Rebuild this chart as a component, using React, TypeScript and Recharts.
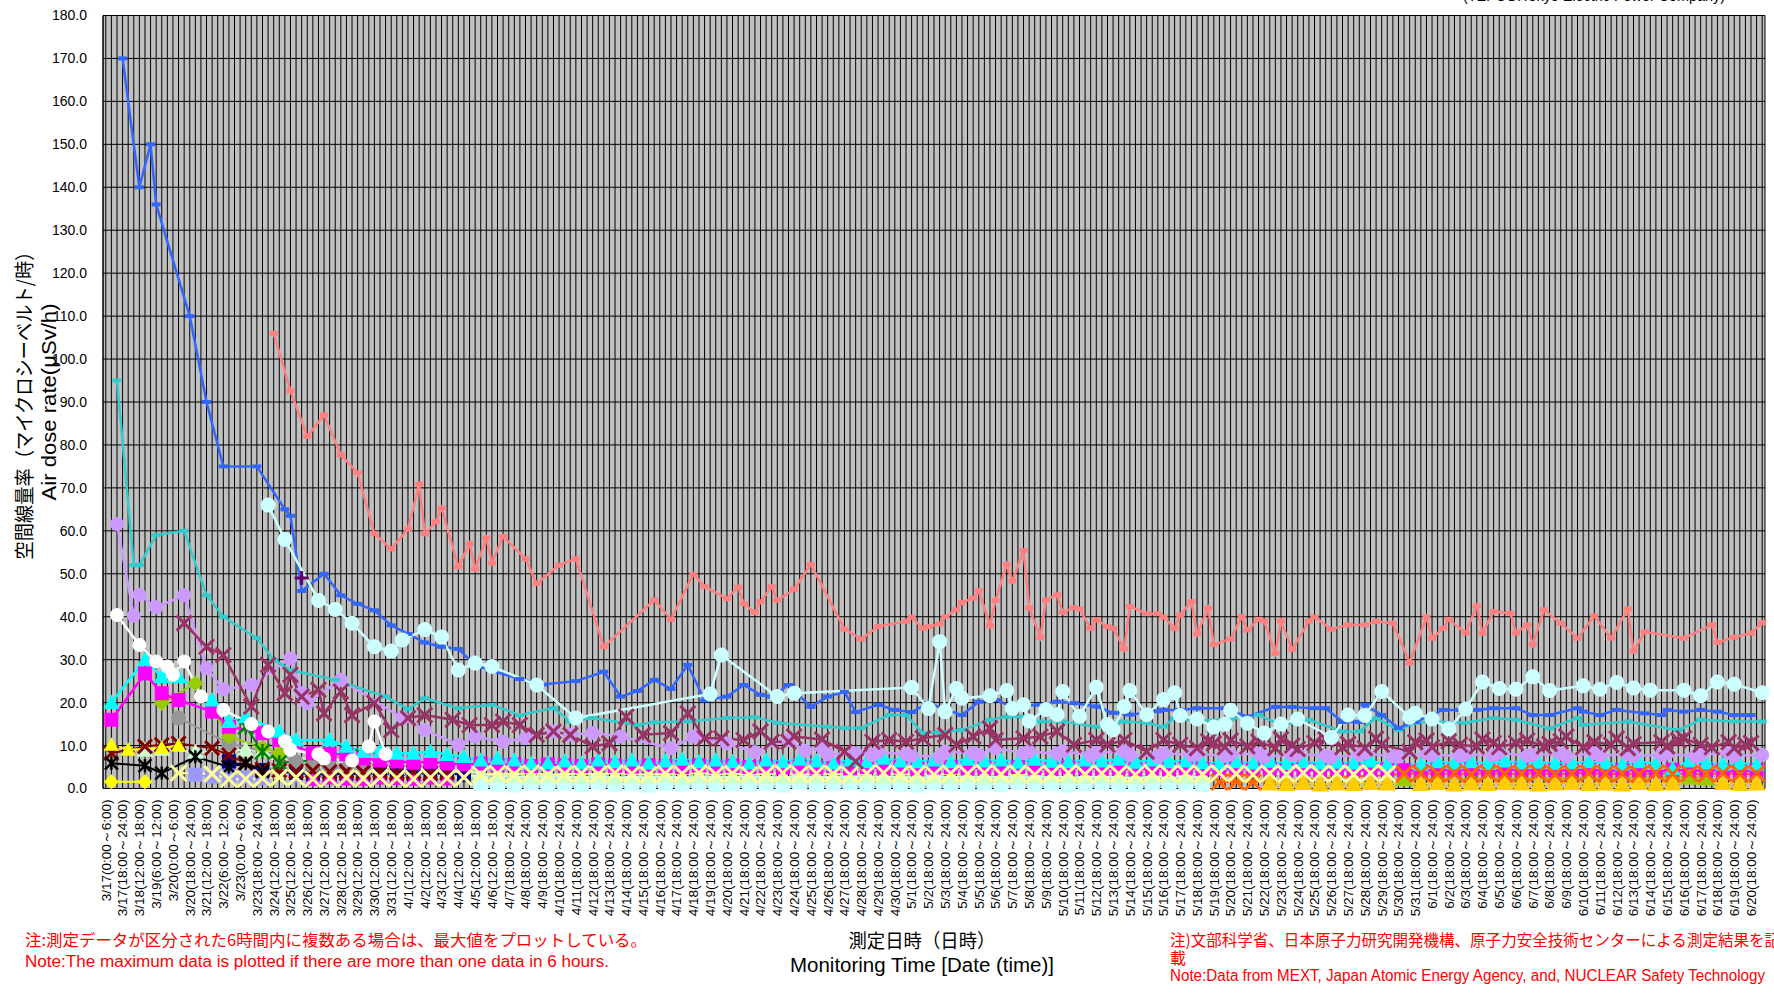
import { LineChart, Line, XAxis, YAxis, CartesianGrid } from 'recharts'

type V = number | null
type Pair = [V, V]
const _ = null

// one label per three category slots
const TICK_LABELS = [
  '3/17(0:00～6:00)', '3/17(18:00～24:00)', '3/18(12:00～18:00)', '3/19(6:00～12:00)', '3/20(0:00～6:00)',
  '3/20(18:00～24:00)', '3/21(12:00～18:00)', '3/22(6:00～12:00)', '3/23(0:00～6:00)', '3/23(18:00～24:00)',
  '3/24(12:00～18:00)', '3/25(12:00～18:00)', '3/26(12:00～18:00)', '3/27(12:00～18:00)', '3/28(12:00～18:00)',
  '3/29(12:00～18:00)', '3/30(12:00～18:00)', '3/31(12:00～18:00)', '4/1(12:00～18:00)', '4/2(12:00～18:00)',
  '4/3(12:00～18:00)', '4/4(12:00～18:00)', '4/5(12:00～18:00)', '4/6(12:00～18:00)', '4/7(18:00～24:00)',
  '4/8(18:00～24:00)', '4/9(18:00～24:00)', '4/10(18:00～24:00)', '4/11(18:00～24:00)', '4/12(18:00～24:00)',
  '4/13(18:00～24:00)', '4/14(18:00～24:00)', '4/15(18:00～24:00)', '4/16(18:00～24:00)', '4/17(18:00～24:00)',
  '4/18(18:00～24:00)', '4/19(18:00～24:00)', '4/20(18:00～24:00)', '4/21(18:00～24:00)', '4/22(18:00～24:00)',
  '4/23(18:00～24:00)', '4/24(18:00～24:00)', '4/25(18:00～24:00)', '4/26(18:00～24:00)', '4/27(18:00～24:00)',
  '4/28(18:00～24:00)', '4/29(18:00～24:00)', '4/30(18:00～24:00)', '5/1(18:00～24:00)', '5/2(18:00～24:00)',
  '5/3(18:00～24:00)', '5/4(18:00～24:00)', '5/5(18:00～24:00)', '5/6(18:00～24:00)', '5/7(18:00～24:00)',
  '5/8(18:00～24:00)', '5/9(18:00～24:00)', '5/10(18:00～24:00)', '5/11(18:00～24:00)', '5/12(18:00～24:00)',
  '5/13(18:00～24:00)', '5/14(18:00～24:00)', '5/15(18:00～24:00)', '5/16(18:00～24:00)', '5/17(18:00～24:00)',
  '5/18(18:00～24:00)', '5/19(18:00～24:00)', '5/20(18:00～24:00)', '5/21(18:00～24:00)', '5/22(18:00～24:00)',
  '5/23(18:00～24:00)', '5/24(18:00～24:00)', '5/25(18:00～24:00)', '5/26(18:00～24:00)', '5/27(18:00～24:00)',
  '5/28(18:00～24:00)', '5/29(18:00～24:00)', '5/30(18:00～24:00)', '5/31(18:00～24:00)', '6/1(18:00～24:00)',
  '6/2(18:00～24:00)', '6/3(18:00～24:00)', '6/4(18:00～24:00)', '6/5(18:00～24:00)', '6/6(18:00～24:00)',
  '6/7(18:00～24:00)', '6/8(18:00～24:00)', '6/9(18:00～24:00)', '6/10(18:00～24:00)', '6/11(18:00～24:00)',
  '6/12(18:00～24:00)', '6/13(18:00～24:00)', '6/14(18:00～24:00)', '6/15(18:00～24:00)', '6/16(18:00～24:00)',
  '6/17(18:00～24:00)', '6/18(18:00～24:00)', '6/19(18:00～24:00)', '6/20(18:00～24:00)',
]

const Y_TICKS = [0, 10, 20, 30, 40, 50, 60, 70, 80, 90, 100, 110, 120, 130, 140, 150, 160, 170, 180]

// main series: two readings per label step (first and last slot of the step)
const BLUE: Pair[] = [
  [_, _], [170, _], [140, 150], [136, _], [_, _], [110, _], [90, _], [75, _], [_, _], [75, _],
  [_, 65], [63.5, 46], [_, _], [50, _], [45, _], [43, _], [41.5, _], [38, _], [36, _], [34, _],
  [33, _], [32.5, _], [28.7, _], [27.4, _], [_, 25.5], [_, _], [24.2, _], [_, _], [25, _], [_, 27.2],
  [_, 21.4], [_, 22.7], [_, 25.3], [_, 23.2], [_, 28.8], [_, 20.5], [_, _], [21.4, _], [24.1, _], [21.8, 21.4],
  [_, 24.1], [_, _], [19, _], [21.4, _], [22.5, 17.8], [_, _], [19.5, _], [18.3, _], [17.8, _], [19.9, _],
  [_, _], [17.1, _], [20.2, _], [20.6, _], [19.1, _], [_, 19.5], [_, 20.2], [_, 19.9], [_, _], [19.1, _],
  [17.6, _], [17.2, _], [_, 18], [18.3, _], [18.3, _], [18.7, _], [_, 18.7], [_, _], [16.7, _], [_, 19],
  [_, 19], [_, _], [18.7, 18.7], [_, 15.5], [_, 15.5], [19.5, _], [17.1, _], [14.1, _], [15.5, _], [_, 18.3],
  [_, 18.3], [_, 18.3], [_, 18.7], [_, _], [18.7, _], [17.1, _], [17.1, _], [_, 18.7], [17.9, _], [17.1, _],
  [18.3, _], [_, 17.5], [_, 17.1], [18.3, _], [17.9, _], [18.3, _], [17.9, _], [17.1, 17.1], [17.1, _],
]

const TEAL: Pair[] = [
  [_, 95], [_, 52], [52, _], [59, _], [_, 60], [_, _], [45, _], [40, _], [_, _], [35, _],
  [30, _], [27.6, _], [_, _], [_, 25.3], [_, _], [_, _], [_, 21.4], [_, _], [18.5, _], [21, _],
  [_, _], [18.7, _], [_, _], [19.5, _], [_, 17.1], [_, _], [_, 18.7], [_, 15.6], [_, _], [16.4, _],
  [_, _], [_, 14.8], [_, 15.4], [_, _], [_, 15.6], [_, _], [_, _], [16.4, _], [_, 16.6], [_, _],
  [15.3, _], [_, _], [_, _], [14.4, _], [14.1, _], [14.1, _], [_, 17.1], [_, 17.1], [_, 12.9], [_, 13.1],
  [_, _], [13.6, _], [_, 16], [_, 16.7], [_, 16.7], [_, 15.6], [_, _], [15.6, _], [_, _], [14.4, _],
  [_, 15.6], [_, _], [15.3, _], [14.4, 16.4], [_, _], [15.8, _], [_, _], [16.2, _], [_, 17.1], [_, _],
  [14.8, _], [_, 16], [_, _], [_, 13.3], [_, 13.3], [_, 16.4], [_, _], [13.6, _], [15.3, _], [15.6, _],
  [_, _], [15.3, _], [_, 16.4], [_, _], [16, _], [_, _], [14, _], [_, 16.4], [14.8, _], [_, _],
  [_, 15.6], [_, _], [_, _], [_, 13.6], [_, _], [16, _], [_, _], [15.6, _], [_, 15.6],
]

// starts at step 10 (3/24)
const SALMON: Pair[] = [
  [106, _], [92.6, _], [82, _], [87, _], [77.7, _], [73.5, _], [59.3, _], [55.8, _], [60.4, 70.9], [59.3, 62.1],
  [65.3, _], [51.6, 57], [51.1, 58.3], [52.5, 58.7], [_, _], [53.5, 47.7], [_, _], [52, _], [53.5, _], [_, 33],
  [_, _], [_, _], [_, 43.9], [_, 39.4], [_, _], [49.9, 47], [_, _], [44.2, 46.9], [43, 41], [43.5, 47],
  [43.8, _], [46.4, _], [52.2, _], [_, _], [37.1, _], [34.8, _], [37.7, _], [_, 38.9], [39.9, 37.3], [37.7, 38.3],
  [40, 41.6], [43.3, 44.3], [46.1, 37.9], [43.8, 52.2], [48.3, 55.4], [42.1, 35.2], [43.9, 45.1], [41, 42.1], [41.8, 37.3], [39.3, 37.7],
  [37.3, 32.5], [42.4, _], [40.7, 40.7], [39.9, 37.3], [40.4, 43.5], [36, 42], [33.5, _], [34.8, 40], [36.9, 39.4], [39, 31.5],
  [39, 32.4], [_, 39], [39.9, _], [37.1, _], [38.1, _], [38.1, 38.9], [_, 38.5], [_, 29.3], [_, 39.9], [35, 37.3],
  [39.4, _], [36.2, 42.5], [36.2, 41.2], [_, 40.8], [36.2, 38.1], [33.5, 41.6], [_, 38.5], [_, 35], [_, 40.2], [_, 35],
  [_, 41.8], [32, 36.5], [_, _], [_, _], [35, _], [_, 38.1], [34, _], [35.2, _], [36.2, 38.6],
]

// starts at step 9
const LIGHT_CYAN: Pair[] = [
  [_, 66],
  [_, 58], [_, _], [_, 43.8], [_, 41.7], [_, 38.5], [_, _], [33, _], [32, 34.6], [_, _], [37, _],
  [35.3, _], [27.6, _], [29.2, _], [28.4, _], [_, _], [_, 24.1], [_, _], [_, _], [16.4, _], [_, _],
  [_, _], [_, _], [_, _], [_, _], [_, _], [_, _], [22, 31.1], [_, _], [_, _], [_, _],
  [21.4, _], [22.2, _], [_, _], [_, _], [_, _], [_, _], [_, _], [_, _], [23.5, _], [18.6, 34.2],
  [17.9, 23.3], [21, _], [_, 21.6], [_, 22.8], [18.6, 19.5], [15.7, _], [18.4, 17.2], [22.6, _], [16.8, _], [23.6, 14.9],
  [13.7, 19.1], [22.8, _], [17.2, _], [20.7, 22.3], [17, _], [16.2, _], [14.3, 15], [18.2, _], [15.2, _], [12.9, _],
  [15, _], [16.2, _], [_, _], [11.9, _], [17.1, _], [17, _], [22.6, _], [_, 16.6], [17.5, _], [16.2, _],
  [13.9, _], [18.5, _], [24.8, _], [23.3, _], [23.1, _], [26, _], [22.8, _], [_, _], [23.9, _], [23.1, _],
  [24.7, _], [23.4, _], [22.9, _], [_, _], [22.9, _], [21.6, _], [24.8, _], [24.3, _], [_, 22.3],
]

const LAVENDER: Pair[] = [
  [_, 61.6], [_, 40.2], [45.1, _], [42.2, _], [_, 45], [_, _], [28, _], [23.1, _], [_, 24.1], [_, _],
  [_, _], [30.3, 22.2], [19.9, _], [_, _], [25.3, _], [_, _], [_, _], [_, 16.4], [_, _], [13.6, _],
  [_, _], [10.2, _], [12.1, _], [_, 10.9], [_, _], [11.7, _], [_, 13.3], [_, 12.5], [_, _], [12.9, _],
  [_, 12.1], [_, _], [_, _], [_, 9.4], [_, _], [12.1, _], [_, _], [10.5, _], [_, 8.5], [_, _],
  [_, 11.3], [_, 8.8], [_, 9.5], [8, _], [_, 8.2], [_, 7.8], [8.5, _], [_, 8], [7.6, _], [_, 7.4],
  [8.6, _], [_, 8.2], [7.8, _], [9.4, _], [_, 8.2], [8.6, _], [_, 8.1], [8.7, _], [_, 7.7], [8.3, _],
  [_, 8.6], [7.9, _], [_, 7.5], [8.2, _], [_, 7.8], [8.1, _], [_, 7.6], [7.9, _], [_, 8.1], [7.4, _],
  [_, 7.8], [8.1, _], [_, 7.6], [7.3, _], [_, 7.9], [8.2, _], [_, 7.5], [7.4, _], [_, 8.2], [7.8, _],
  [_, 7.6], [8, _], [_, 7.7], [8.3, _], [_, 7.6], [7.8, _], [_, 8.1], [7.5, _], [_, 8.2], [7.7, _],
  [_, 8], [7.6, _], [_, 7.8], [8.1, _], [_, 7.5], [7.8, _], [_, 8.3], [7.6, _], [_, 7.8],
]

// starts at step 4
const PLUM: Pair[] = [
  [_, 38.5], [_, _], [33, _], [31.1, _], [_, 19.1], [_, 28.8],
  [_, 22.2], [26.5, 21.4], [_, 23], [17.5, _], [22.6, 17.1], [_, _], [19.9, _], [13.6, _], [16.4, _], [17.1, _],
  [_, 16], [_, 14.8], [_, _], [14.8, 15.6], [_, 14.8], [_, 12.5], [_, 13.3], [_, 12.5], [_, _], [9.8, _],
  [10.5, _], [16.7, _], [12.5, _], [_, 12.9], [_, 17.5], [_, 11.7], [_, 11.7], [_, _], [11.3, _], [13.3, 10.9],
  [_, 10.9], [12.1, _], [_, 11.4], [_, _], [8.6, 6.3], [_, 10.9], [_, 11.3], [_, 10.9], [_, 11.7], [_, _],
  [12.5, 10.2], [_, 12.1], [_, 14], [11.3, _], [_, 11.7], [_, 12.1], [_, 13.3], [_, 10.2], [_, _], [11.3, 10.2],
  [_, 11.3], [_, _], [8.6, _], [11.3, _], [10.2, _], [9.4, 11], [10.5, 9.6], [11.2, _], [9.8, 10.9], [_, 9.4],
  [11.5, 10], [9.2, _], [10.6, 11.4], [_, 9.6], [10.4, _], [9.4, 11.6], [10.2, _], [_, 8.6], [10.8, 11.2], [9.6, _],
  [11, 10.2], [_, 9.8], [11.4, 10.6], [9.6, _], [10.6, 11.2], [_, 9.8], [10.4, 11], [12.1, _], [9.6, 10.8], [_, 10.2],
  [11.6, 9.4], [10.4, _], [_, 10.8], [9.8, 11.2], [11.7, _], [10.2, 9.6], [_, 10.8], [9.4, 10.2], [10.6, _],
]

const WHITE: Pair[] = [
  [_, 40.4], [_, _], [33.4, _], [29.6, 28.4], [26.5, 29.6], [_, 21.4], [_, _], [18.3, _], [_, 15], [_, 13.3],
  [_, 11], [9, _], [_, 8], [7, _], [_, 6.5], [_, 9.8], [15.6, 8],
]

// starts at step 11
const PURPLE_PLUS: Pair[] = [[_, 49]]

// low-level series: one reading per label step (middle slot)
const CYAN_TRI: V[] = [
  20, _, 30, 26, 26, _, 20.6, 15.6, 16.7, _,
  13.3, 11.3, _, 11.3, 9.8, 8.6, 8.6, 8.2, 8.2, 8.6,
  7.9, 7.4, 6.6, 7, 6.6, 5.9, 5.9, 6.4, 5.9, 6.6,
  6.2, 6.6, 5.9, 6.4, 6.8, 6.2, 6.6, 6.2, 5.9, 6.6,
  6.2, 6.8, 6.4, 5.9, 6.6, 6.2, 7, 6.4, 6.2, 6.6,
  6.2, 6.8, 6.4, 6.6, 6.1, 6.8, 6.3, 6.2, 6.6, 6.4,
  6.8, 6.1, 6.6, 6.2, 6.4, 6, 5.8, 6.2, 5.9, 6.3,
  5.8, 6.2, 5.9, 6.1, 5.9, 6.4, 5.7, _, 5.6, 6.2,
  5.9, 6.2, 5.8, 6.4, 5.9, 6.1, 5.8, 6, 6.2, 5.9,
  5.6, 6.2, 5.8, 4.6, 6.4, 5.9, 5.6, 5.8, 5.6,
]
const MAGENTA_SQ: V[] = [
  16, _, 26.8, 22.2, 20.6, _, 17.9, 14.4, _, 12.9,
  11.3, _, 8.2, 8, 7.9, 7, 6.5, 6.3, 6, 6.2,
  5.8, 5.6, 5.8, 5.5, 5.6, 5.2, 5.6, 5.4, 5.2, 5.6,
  5.3, 5.1, 5.4, 5.2, 5, 5.4, 5.1, 5.3, 5, 5.2,
  4.8, 5.1, 4.9, 5.2, 4.7, 5, 4.8, 5.1, 4.6, 4.9,
  5, 4.7, 4.9, 4.6, 5, 4.8, 4.5, 4.9, 4.7, 4.6,
  4.8, 4.5, 4.7, 4.4, 4.8, 4.6, 4.3, 4.7, 4.4, 4.6,
  4.3, 4.5, 4.2, 4.6, 4.4, 4.2, 4.5, 4.3, 4.1, 4.4,
  4.2, 4.5, 4.1, 4.3, 4.4, 4.1, 4.3, 4.2, 4.4, 4.1,
  4.3, 4.2, 4, 4.4, 4.1, 4.3, 4.2, 4, 4.3,
]
const LIGHT_YELLOW_X: V[] = [ // from step 4
  3.6, _, 3.4, 2.2, 2.2, 2.4, 2.6, 2.6, 2.2, 2.4,
  2.5, 2.3, 2.6, 2.4, 2.2, 2.5, 2.4, 2.6, 3.2, 3.5,
  3.3, 3.6, 3.2, 3.4, 3.5, 3.3, 3.6, 3.4, 3.2, 3.5,
  3.4, 3.6, 3.3, 3.5, 3.2, 3.4, 3.6, 3.3, 3.5, 3.4,
  3.2, 3.5, 3.6, 3.3, 3.4, 3.2, 3.5, 3.4, 3.6, 3.3,
  3.5, 3.2, 3.4, 3.6, 3.3, 3.5, 3.4, 3.2, 3.6, 3.4,
  3.5, 3.3, 3.6, 3.4, 3.2, 3.5, 3.3, 3.6, 3.4, 3.5,
  3.3, 3.6, 3.4,
]
const LIGHT_GREEN_TRI: V[] = [ // from step 2
  9, 9.2, _, 8.5, _, _, 9, 8.8, 8.2, _,
  6.5, 6, 7.5, 5.5, 5, 4.8, 4.6, 4.5, 4.4, 4.2,
  3.5, 3, 2.8, 2.6, 3, 2.8, 2.6, 2.8, 2.5, 2.7,
  2.6, 2.9, 2.5, 2.7, 2.8, 2.6, 2.9, 2.5, 2.7, 2.6,
  2.8, 2.5, 2.7, 2.9, 2.6, 2.8, 2.5, 2.7, 2.6, 2.9,
  2.5, 2.8, 2.6, 2.7, 2.9, 2.5, 2.7, 2.8, 2.6, 2.5,
  2.7, 2.9, 2.6, 2.8,
]
const LIGHT_CYAN_SQ: V[] = [ // from step 22
  1.2, 1, 0.8, 1.3, 1, 1.2, 0.9, 1.4, 1, 1.1,
  0.8, 1.2, 1, 1.3, 0.9, 1.1, 1, 1.2, 0.8, 1.4,
  1, 1.1, 1.3, 0.9, 1.2, 1, 0.8, 1.3, 1.1, 1,
  1.2, 0.9, 1.4, 1, 1.2, 0.8, 1.1, 1.3, 1, 0.9,
  1.2, 1.1, 1.3, 0.9,
]
const GOLD_TRI: V[] = [ // from step 69
  1.2, 1.1, 1.3, 1, 1.2, 1.1, 1.3, 1.2, _, 1.1,
  1.3, 1, 1.2, 1.1, 1.3, 1.2, 1, 1.2, 1.3, 1.1,
  1.2, 1, 1.3, 1.1, 1.2, _, _, 1.3, 1.1, 1.2,
]
const ORANGE_X: V[] = [ // from step 66
  1.5, 1.6, 1.5, _, _, _, _, _, _, _,
  _, 3.4, 3.6, 3.4, 3.6, 3.3, 3.6, 3.4, 3.5, 3.6,
  3.3, 3.5, 3.6, 3.4, 3.5, 3.3, 3.6, 3.4, 3.5, 3.3,
  3.6, 3.4, 3.5,
]
const YG_LATE: V[] = [2.2, _, _, _, _, _, _, _, _, _, _, _, _, _, _, _, _, 2.6, 2.4] // from step 77
const NAVY_SQ: V[] = [6.3, _, 4.3, _, 3.6, 3.4, 3.2, 3.5, 3.3, 3.6, 3.2, 3.4, 3.3, 3.5, 3.2] // from 7
const MAGENTA_TRI: V[] = [2.2, 2.5, 2.3, 2.2, 2.5, 2.4, 2.2, 2.5, 2.3] // from 12
const PERIWINKLE_SQ: V[] = [3.2, 2.8, 3, 2.6, 2.4, _, 3, 2.8, 3.3, 3.6, 3.2] // from 5
const GRAY_CIRCLE: V[] = [16.4, _, _, 10.5, _, _, 7.8, 6.2, 5.3, 5, 4.6, 4.2] // from 4
const YELLOW_GREEN_DIA: V[] = [19.9, _, 24.5, _, 12.1, _, 9.5, 8.2] // from 3
const DARK_RED_X: V[] = [8.2, _, 9.8, 10.2, 10.5, _, 9.4, 7.8, 5.9, 4.5, 4.2, 4, 4.1, 3.9, 4, 3.8, 4, 3.7, 3.9, 3.6, 3.8]
const BLACK_STAR: V[] = [5.9, _, 5.3, 3.6, _, 7.4, _, 5, 5.9, 4]
const GREEN_STAR: V[] = [14.4, 8.6, 6, _, _, _, _, 7.4] // from 8
const YELLOW_TRI: V[] = [10.2, 9, _, 9.5, 10]
const YELLOW_DIA: V[] = [1.6, _, 1.6]

type Shape = 'circle' | 'square' | 'dash' | 'chip' | 'triangle' | 'diamond' | 'x' | 'star' | 'plus'
interface SeriesDef {
  key: string
  color: string
  shape: Shape
  size: number
  width: number
  start: number
  pairs?: Pair[]
  values?: V[]
}

// drawing order: first is at the bottom
const SERIES: SeriesDef[] = [
  { key: 'lcSq', color: '#CCFFFF', shape: 'square', size: 15, width: 2, start: 22, values: LIGHT_CYAN_SQ },
  { key: 'lgTri', color: '#CCFFCC', shape: 'triangle', size: 17, width: 2, start: 2, values: LIGHT_GREEN_TRI },
  { key: 'peri', color: '#9999FF', shape: 'square', size: 14, width: 2, start: 5, values: PERIWINKLE_SQ },
  { key: 'navy', color: '#000080', shape: 'square', size: 14, width: 2, start: 7, values: NAVY_SQ },
  { key: 'mgTri', color: '#FF00FF', shape: 'triangle', size: 17, width: 2, start: 12, values: MAGENTA_TRI },
  { key: 'gray', color: '#969696', shape: 'circle', size: 15, width: 2, start: 4, values: GRAY_CIRCLE },
  { key: 'ygDia', color: '#99CC00', shape: 'diamond', size: 16, width: 2, start: 3, values: YELLOW_GREEN_DIA },
  { key: 'drX', color: '#800000', shape: 'x', size: 14, width: 2, start: 0, values: DARK_RED_X },
  { key: 'blkStar', color: '#000000', shape: 'star', size: 13, width: 2, start: 0, values: BLACK_STAR },
  { key: 'grStar', color: '#008000', shape: 'star', size: 15, width: 2, start: 8, values: GREEN_STAR },
  { key: 'yTri', color: '#FFFF00', shape: 'triangle', size: 15, width: 2, start: 0, values: YELLOW_TRI },
  { key: 'yDia', color: '#FFFF00', shape: 'diamond', size: 15, width: 2, start: 0, values: YELLOW_DIA },
  { key: 'mgSq', color: '#FF00FF', shape: 'square', size: 14, width: 2.5, start: 0, values: MAGENTA_SQ },
  { key: 'cyTri', color: '#00FFFF', shape: 'triangle', size: 16, width: 2.5, start: 0, values: CYAN_TRI },
  { key: 'gold', color: '#FFCC00', shape: 'triangle', size: 18, width: 2, start: 69, values: GOLD_TRI },
  { key: 'ygLate', color: '#99CC00', shape: 'triangle', size: 18, width: 2, start: 77, values: YG_LATE },
  { key: 'orX', color: '#FF6600', shape: 'x', size: 16, width: 2, start: 66, values: ORANGE_X },
  { key: 'lyX', color: '#FFFF99', shape: 'x', size: 16, width: 2, start: 4, values: LIGHT_YELLOW_X },
  { key: 'lav', color: '#CC99FF', shape: 'circle', size: 14, width: 2.5, start: 0, pairs: LAVENDER },
  { key: 'white', color: '#FFFFFF', shape: 'circle', size: 14, width: 2.5, start: 0, pairs: WHITE },
  { key: 'teal', color: '#33CCCC', shape: 'dash', size: 9, width: 2.5, start: 0, pairs: TEAL },
  { key: 'plum', color: '#993366', shape: 'x', size: 15, width: 2.5, start: 4, pairs: PLUM },
  { key: 'blue', color: '#3366FF', shape: 'dash', size: 9, width: 2.5, start: 0, pairs: BLUE },
  { key: 'lc', color: '#CCFFFF', shape: 'circle', size: 15, width: 2.5, start: 9, pairs: LIGHT_CYAN },
  { key: 'salmon', color: '#FF8080', shape: 'chip', size: 8, width: 2.5, start: 10, pairs: SALMON },
  { key: 'pplus', color: '#660066', shape: 'plus', size: 14, width: 2, start: 11, pairs: PURPLE_PLUS },
]

const rows: Record<string, number>[] = Array.from({ length: TICK_LABELS.length * 3 }, (_v, slot) => ({ slot }))
SERIES.forEach((s) => {
  if (s.pairs) {
    s.pairs.forEach((p, j) => {
      const base = (s.start + j) * 3
      if (p[0] != null) rows[base][s.key] = p[0]
      if (p[1] != null) rows[base + 2][s.key] = p[1]
    })
  } else if (s.values) {
    s.values.forEach((v, j) => {
      if (v != null) rows[(s.start + j) * 3 + 1][s.key] = v
    })
  }
})

function marker(shape: Shape, cx: number, cy: number, size: number, color: string, key: string) {
  const h = size / 2
  switch (shape) {
    case 'circle':
      return <circle key={key} cx={cx} cy={cy} r={h} fill={color} />
    case 'square':
      return <rect key={key} x={cx - h} y={cy - h} width={size} height={size} fill={color} />
    case 'dash':
      return <rect key={key} x={cx - h} y={cy - 2} width={size} height={4} fill={color} />
    case 'chip':
      return <rect key={key} x={cx - h} y={cy - 2.5} width={size} height={5} fill={color} />
    case 'triangle':
      return <polygon key={key} points={`${cx},${cy - h} ${cx + h},${cy + h * 0.8} ${cx - h},${cy + h * 0.8}`} fill={color} />
    case 'diamond':
      return <polygon key={key} points={`${cx},${cy - h} ${cx + h},${cy} ${cx},${cy + h} ${cx - h},${cy}`} fill={color} />
    case 'x':
      return <path key={key} d={`M${cx - h},${cy - h}L${cx + h},${cy + h}M${cx + h},${cy - h}L${cx - h},${cy + h}`} stroke={color} strokeWidth={3} />
    case 'star':
      return <path key={key} d={`M${cx - h},${cy - h}L${cx + h},${cy + h}M${cx + h},${cy - h}L${cx - h},${cy + h}M${cx},${cy - h}L${cx},${cy + h}`} stroke={color} strokeWidth={2.5} />
    case 'plus':
      return <path key={key} d={`M${cx - h},${cy}L${cx + h},${cy}M${cx},${cy - h}L${cx},${cy + h}`} stroke={color} strokeWidth={3} />
  }
}

function SlotTick(props: any) {
  const { x, y, payload } = props
  const slot = Number(payload.value)
  if (slot % 3 !== 0) return <g />
  const ty = y + 11
  return (
    <text
      x={x}
      y={ty}
      transform={`rotate(-90 ${x} ${ty})`}
      textAnchor="end"
      dy="0.36em"
      fontSize={13.5}
      fill="#000"
      fontFamily="'Liberation Sans', Arial, sans-serif"
    >
      {TICK_LABELS[slot / 3]}
    </text>
  )
}

const SANS = "'Liberation Sans', Arial, sans-serif"
const JP = "'Noto Sans CJK JP', sans-serif"

export default function App() {
  return (
    <div style={{ position: 'absolute', left: 0, top: 0, width: 1774, height: 1003, background: '#fff', overflow: 'hidden', fontFamily: SANS }}>
      <LineChart width={1774} height={1003} data={rows} margin={{ top: 15.5, right: 9, bottom: 0, left: 8 }}>
        <CartesianGrid stroke="#000" strokeWidth={1} fill="#C0C0C0" fillOpacity={1} />
        <XAxis
          dataKey="slot"
          type="category"
          scale="band"
          interval={0}
          height={214.5}
          tickLine={false}
          tickSize={0}
          tickMargin={0}
          axisLine={{ stroke: '#000' }}
          tick={<SlotTick />}
        />
        <YAxis
          domain={[0, 180]}
          ticks={Y_TICKS}
          width={95}
          tickLine={false}
          tickSize={4}
          tickMargin={12}
          axisLine={{ stroke: '#000' }}
          tick={{ fontSize: 14, fill: '#000', fontFamily: SANS }}
          tickFormatter={(v: number) => v.toFixed(1)}
        />
        <YAxis yAxisId="frame" orientation="right" domain={[0, 180]} width={0} tick={false} tickLine={false} axisLine={{ stroke: '#000' }} />
        {SERIES.map((s) => (
          <Line
            key={s.key}
            dataKey={s.key}
            type="linear"
            stroke={s.color}
            strokeWidth={s.width}
            connectNulls
            isAnimationActive={false}
            activeDot={false}
            dot={(p: any) =>
              typeof p.cy !== 'number' || Number.isNaN(p.cy)
                ? <g key={`${s.key}-${p.index}`} />
                : marker(s.shape, p.cx, p.cy, s.size, s.color, `${s.key}-${p.index}`)
            }
          />
        ))}
      </LineChart>
      <svg width={1774} height={1003} style={{ position: 'absolute', left: 0, top: 0, pointerEvents: 'none' }}>
        <text x={1463} y={1} fontSize={15} fontFamily={SANS} textLength={262} lengthAdjust="spacingAndGlyphs">(TEPCO:Tokyo Electric Power Company)</text>
        <text transform="translate(23 401) rotate(-90)" textAnchor="middle" dominantBaseline="central" fontSize={20} fontFamily={JP} textLength={317} lengthAdjust="spacingAndGlyphs">空間線量率（マイクロシーベルト/時）</text>
        <text transform="translate(48 402) rotate(-90)" textAnchor="middle" dominantBaseline="central" fontSize={21} fontFamily={SANS} textLength={197} lengthAdjust="spacingAndGlyphs">Air dose rate(μSv/h)</text>
        <text x={922} y={939} textAnchor="middle" dominantBaseline="central" fontSize={19} fontFamily={JP} textLength={147} lengthAdjust="spacingAndGlyphs">測定日時（日時）</text>
        <text x={922} y={965} textAnchor="middle" dominantBaseline="central" fontSize={20} fontFamily={SANS} textLength={264} lengthAdjust="spacingAndGlyphs">Monitoring Time [Date (time)]</text>
        <g fill="#FF0000">
          <text x={25} y={939} dominantBaseline="central" fontSize={16} fontFamily={JP} textLength={622} lengthAdjust="spacingAndGlyphs">注:測定データが区分された6時間内に複数ある場合は、最大値をプロットしている。</text>
          <text x={25} y={961} dominantBaseline="central" fontSize={16} fontFamily={SANS} textLength={584} lengthAdjust="spacingAndGlyphs">Note:The maximum data is plotted if there are more than one data in 6 hours.</text>
          <text x={1170} y={939} dominantBaseline="central" fontSize={16} fontFamily={JP} textLength={610} lengthAdjust="spacingAndGlyphs">注)文部科学省、日本原子力研究開発機構、原子力安全技術センターによる測定結果を記</text>
          <text x={1170} y={957} dominantBaseline="central" fontSize={16} fontFamily={JP}>載</text>
          <text x={1170} y={975} dominantBaseline="central" fontSize={16} fontFamily={SANS} textLength={595} lengthAdjust="spacingAndGlyphs">Note:Data from MEXT, Japan Atomic Energy Agency, and, NUCLEAR Safety Technology</text>
        </g>
      </svg>
    </div>
  )
}
